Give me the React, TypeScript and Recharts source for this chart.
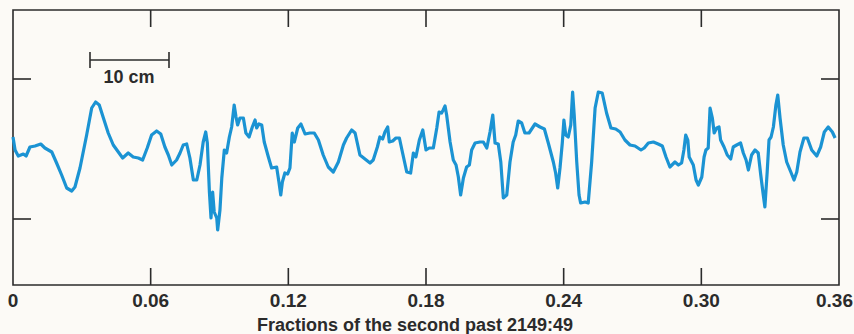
import React from 'react';
import { LineChart, Line, XAxis, YAxis, ReferenceArea } from 'recharts';

// time in ms after 2149:49, trace value in arbitrary units
const times = [
  0, 0.9, 2.3, 4.5, 5.7, 7.4, 9.6, 12.1, 13.9, 16.9, 19.0, 21.2, 23.4, 25.6, 27.0, 29.2, 32.1, 34.3, 36.0, 37.6,
  39.4, 41.5, 43.7, 45.9, 47.8, 50.2, 52.4, 54.6, 56.5, 58.5, 60.4, 62.6, 64.4, 66.2, 67.7, 69.2, 71.3, 72.8, 74.2, 75.7,
  77.1, 78.6, 80.1, 81.5, 82.9, 84.0, 84.7, 85.6, 86.3, 87.0, 87.7, 88.8, 89.2, 90.2, 91.0, 92.1, 93.1, 94.3, 95.3, 96.4,
  97.2, 97.9, 98.9, 100.4, 101.5, 102.9, 104.3, 105.5, 106.2, 107.2, 108.4, 109.5, 111.3, 112.7, 114.9, 115.9, 116.7, 117.4, 118.5, 119.7,
  120.7, 121.7, 122.6, 124.1, 125.5, 127.3, 129.4, 131.3, 133.1, 135.2, 137.4, 139.6, 141.8, 144.0, 145.4, 147.6, 149.1, 151.2, 153.4, 155.6,
  157.0, 158.8, 159.9, 161.1, 162.1, 163.3, 164.0, 165.5, 166.9, 168.4, 169.8, 171.6, 173.3, 174.5, 175.6, 177.1, 178.6, 180.0, 181.4, 183.2,
  184.7, 185.7, 186.8, 187.5, 188.3, 189.0, 190.5, 191.9, 193.1, 194.1, 195.1, 196.3, 197.7, 198.9, 199.9, 201.4, 203.5, 205.0, 206.5, 207.9,
  209.1, 210.1, 211.5, 212.6, 213.7, 215.2, 216.6, 218.0, 219.1, 220.2, 221.7, 223.1, 224.9, 227.5, 229.7, 231.6, 233.3, 235.5, 236.5, 237.4,
  238.4, 239.4, 240.1, 240.9, 242.0, 243.1, 243.9, 244.6, 245.7, 246.7, 247.4, 249.3, 250.7, 252.2, 253.7, 255.1, 256.8, 258.7, 260.6, 262.7,
  264.6, 266.7, 268.9, 271.1, 273.7, 275.1, 276.9, 279.1, 281.2, 283.0, 284.6, 286.3, 288.5, 290.0, 291.4, 292.4, 293.2, 294.1, 294.7, 296.5,
  297.7, 298.7, 300.2, 301.2, 302.0, 303.0, 303.8, 304.8, 305.6, 306.7, 307.7, 308.4, 309.9, 311.3, 312.8, 313.9, 315.4, 317.1, 318.3, 319.5,
  320.5, 321.9, 323.4, 324.8, 325.9, 327.0, 327.7, 328.7, 329.5, 330.4, 331.4, 332.5, 333.3, 334.3, 335.7, 337.2, 339.0, 340.4, 341.6, 343.0,
  344.7, 346.2, 348.1, 350.3, 352.0, 353.6, 355.3, 357.1, 358.3,
];

const trace = [
  1.2, -0.1, -0.7, -0.5, -0.7, 0.2, 0.3, 0.5, 0.1, -0.3, -1.4, -2.6, -3.9, -4.2, -3.8, -1.9, 1.4, 4.1, 4.7, 4.4,
  3.1, 1.6, 0.4, -0.3, -0.9, -0.4, -0.8, -0.9, -1.1, 0.1, 1.4, 1.8, 1.5, 0.2, -0.6, -1.6, -1.1, -0.4, 0.4, 0.5,
  -0.9, -3.1, -3.1, -1.6, 0.7, 1.7, 0.6, -4.3, -6.9, -4.3, -6.3, -6.9, -8.1, -6.1, -2.9, -0.1, -0.4, 1.2, 2.2, 4.4,
  3.2, 2.4, 3.1, 3.1, 1.6, 1.2, 2.2, 2.9, 2.1, 2.5, 2.4, 0.7, -0.8, -1.9, -1.8, -3.3, -4.6, -3.3, -2.4, -2.5,
  -1.9, 1.6, 0.7, 2.1, 2.5, 1.5, 1.6, 1.6, 0.9, -0.6, -1.8, -2.3, -1.3, 0.4, 1.1, 1.9, 1.6, -0.6, -1.0, -1.4,
  -1.1, 0.2, 1.2, 1.0, 1.7, 2.2, 0.7, 0.8, 1.1, 1.1, -0.4, -2.3, -2.4, -0.4, -0.8, 0.9, 1.9, -0.1, 0.1, 0.1,
  2.1, 3.7, 3.6, 3.9, 4.3, 3.4, 0.7, -1.1, -1.6, -2.8, -4.6, -2.9, -1.8, -1.6, -0.1, 0.6, 0.7, 0.7, 0.1, 1.7,
  3.4, 0.6, 0.5, -1.3, -4.9, -4.6, -1.3, 0.7, 1.4, 2.8, 2.6, 1.6, 1.6, 2.5, 2.2, 2.0, 0.6, -1.3, -2.4, -3.9,
  -1.9, 0.6, 2.9, 1.4, 1.2, 2.4, 5.7, 3.4, -1.3, -4.6, -5.4, -5.3, -5.4, -1.3, 4.1, 5.7, 5.6, 3.6, 2.1, 2.0,
  1.7, 0.9, 0.4, 0.3, -0.1, 0.1, 0.6, 0.7, 0.5, 0.3, -0.8, -1.8, -1.3, -1.6, -1.4, -0.1, 1.4, 0.9, -0.8, -1.6,
  -3.1, -3.6, -2.8, -0.8, -0.1, 0.1, 4.1, 3.1, 1.6, 2.1, 2.2, 0.9, 0.2, -0.6, -1.0, 0.2, 0.4, 0.6, -0.4, -1.1,
  -2.1, -0.6, -0.1, -0.4, -2.6, -4.6, -5.8, -2.3, 0.9, 1.2, 2.2, 4.4, 5.4, 3.1, 0.4, -1.3, -2.3, -3.1, -2.3, -0.3,
  1.1, 1.1, -0.1, -0.7, 0.2, 1.7, 2.2, 1.7, 1.1,
];

const xTicks = [0, 60, 120, 180, 240, 300, 360];
const yTicks = [-7, 7];
const yDomain = [-13.6, 13.9];
const xTitle = 'Fractions of the second past 2149:49';
const scaleLabel = '10 cm';

const data = times.map((t, i) => ({ t, v: trace[i] }));

const INK = '#2b2b2b';
const BLUE = '#1b93d3';
const FONT = '"Liberation Sans", Arial, Helvetica, sans-serif';
const TOP = 10;
const BOTTOM = 285;
const LEFT = 13;
const RIGHT = 839;
const TICK = 17;

const fmt = (v: number) => (v === 0 ? '0' : (v / 1000).toFixed(2));

const XTick = (props: any) => {
  const { x, payload } = props;
  const inner = payload.value !== 0 && payload.value !== 360;
  const last = payload.value === 360;
  return (
    <g>
      {inner && <line x1={x} y1={BOTTOM} x2={x} y2={BOTTOM - TICK} stroke={INK} strokeWidth={1.6} />}
      {inner && <line x1={x} y1={TOP} x2={x} y2={TOP + TICK} stroke={INK} strokeWidth={1.6} />}
      <text
        x={last ? 853 : x}
        y={307}
        textAnchor={last ? 'end' : 'middle'}
        fontFamily={FONT}
        fontSize={19}
        fontWeight="bold"
        fill={INK}
      >
        {fmt(payload.value)}
      </text>
    </g>
  );
};

const YTick = (props: any) => {
  const { y } = props;
  return (
    <g>
      <line x1={LEFT} y1={y} x2={LEFT + TICK + 1} y2={y} stroke={INK} strokeWidth={1.6} />
      <line x1={RIGHT} y1={y} x2={RIGHT - TICK - 1} y2={y} stroke={INK} strokeWidth={1.6} />
    </g>
  );
};

export default function App() {
  return (
    <div style={{ position: 'fixed', left: 0, top: 0, width: 854, height: 334, background: '#fcfaf6' }}>
      <LineChart width={854} height={334} data={data} margin={{ top: TOP, right: 854 - RIGHT, bottom: 9, left: LEFT - 1 }}>
        <XAxis
          dataKey="t"
          type="number"
          domain={[0, 360]}
          ticks={xTicks}
          interval={0}
          height={40}
          axisLine={false}
          tickLine={false}
          tickSize={0}
          tick={<XTick />}
        />
        <YAxis
          type="number"
          domain={yDomain}
          ticks={yTicks}
          width={1}
          axisLine={false}
          tickLine={false}
          tickSize={0}
          tick={<YTick />}
          allowDataOverflow
        />
        <ReferenceArea x1={0} x2={360} y1={yDomain[0]} y2={yDomain[1]} fill="none" stroke={INK} strokeWidth={1.6} />
        <Line
          type="linear"
          dataKey="v"
          stroke={BLUE}
          strokeWidth={3.2}
          strokeLinejoin="round"
          dot={false}
          isAnimationActive={false}
        />
      </LineChart>
      <svg width={854} height={334} style={{ position: 'absolute', left: 0, top: 0, pointerEvents: 'none' }}>
        <line x1={90} y1={60} x2={169} y2={60} stroke={INK} strokeWidth={1.6} />
        <line x1={90} y1={52} x2={90} y2={68} stroke={INK} strokeWidth={1.6} />
        <line x1={169} y1={52} x2={169} y2={68} stroke={INK} strokeWidth={1.6} />
        <text x={129} y={83} textAnchor="middle" fontFamily={FONT} fontSize={18} fontWeight="bold" fill={INK}>
          {scaleLabel}
        </text>
        <text x={415} y={331} textAnchor="middle" fontFamily={FONT} fontSize={18} fontWeight="bold" fill={INK}>
          {xTitle}
        </text>
      </svg>
    </div>
  );
}
